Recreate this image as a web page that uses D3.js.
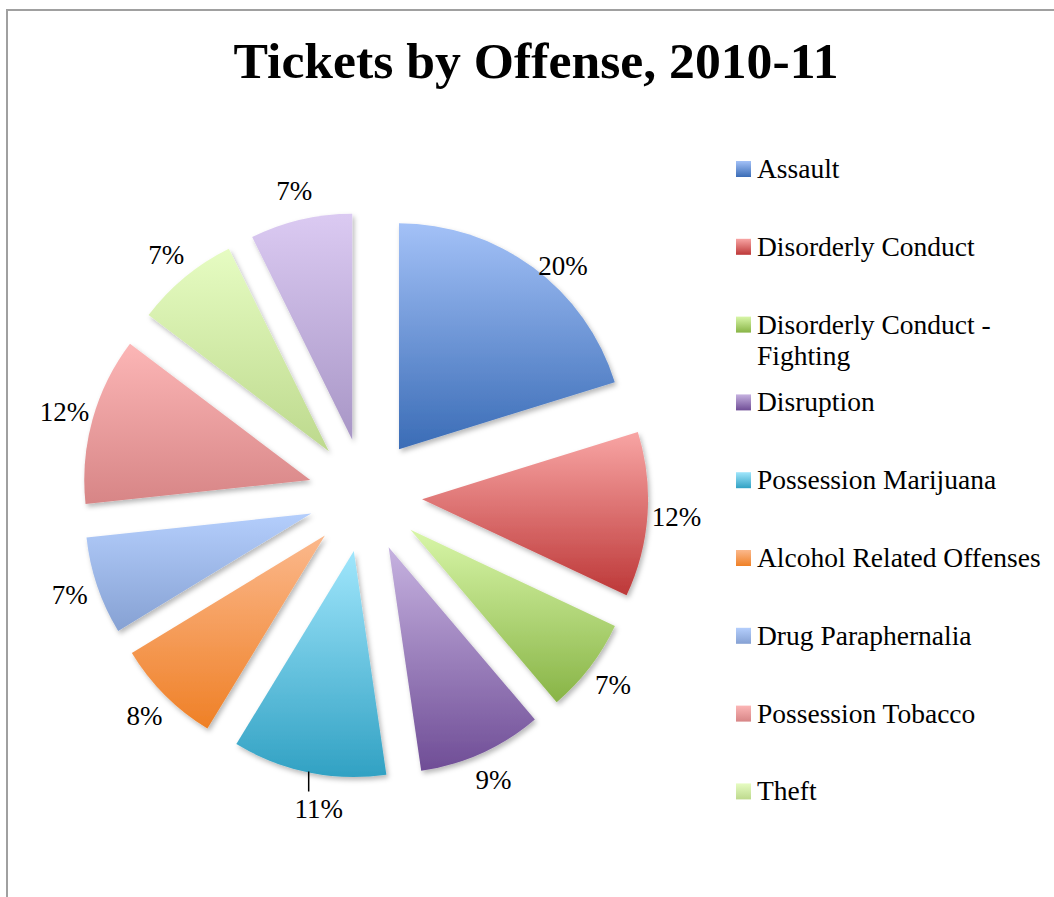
<!DOCTYPE html>
<html>
<head>
<meta charset="utf-8">
<script src="https://cdn.jsdelivr.net/npm/d3@7"></script>
<style>
  html, body { margin: 0; padding: 0; background: #fff; }
  svg { display: block; }
</style>
</head>
<body>
<svg id="chart" width="1054" height="897"></svg>
<script>
// ---- data ----
const title = "Tickets by Offense, 2010-11";
const categories = [
  "Assault", "Disorderly Conduct", "Disorderly Conduct - Fighting", "Disruption",
  "Possession Marijuana", "Alcohol Related Offenses", "Drug Paraphernalia",
  "Possession Tobacco", "Theft", "Other"
];
// estimated shares (percent)
const values = [20.2, 11.8, 6.8, 8.9, 11.0, 7.6, 7.0, 12.0, 7.4, 7.3];
const colorsTop = ["#a3c1f7", "#f8a5a4", "#d8f6a8", "#c6b2e0", "#a0e6fc", "#fbb88c", "#b4cefc", "#fcb6b6", "#e6fcc2", "#dbcaf2"];
const colorsBottom = ["#3a6cb6", "#bd3838", "#88b446", "#6f4d96", "#31a1c3", "#ef8026", "#86a1d3", "#d78586", "#bdd98d", "#a896c6"];
const leaderLabels = ["Possession Marijuana"];

// ---- layout ----
const W = 1054, H = 897;
const cx = 365.2, cy = 495.2;
const radius = 226, explode = 57, labelR = 312;
const font = "'Liberation Serif', 'Times New Roman', serif";

const svg = d3.select("#chart");
const defs = svg.append("defs");

// frame
svg.append("path")
  .attr("d", `M7,${H} L7,10 L${W},10`)
  .attr("fill", "none").attr("stroke", "#a0a0a0").attr("stroke-width", 2);

// title
svg.append("text")
  .attr("x", 536).attr("y", 78)
  .attr("text-anchor", "middle")
  .attr("font-family", font).attr("font-weight", "bold").attr("font-size", 50)
  .attr("textLength", 605).attr("lengthAdjust", "spacingAndGlyphs")
  .text(title);

// gradients
const grads = defs.selectAll("linearGradient").data(categories).join("linearGradient")
  .attr("id", (d, i) => "g" + i)
  .attr("x1", 0).attr("y1", 0).attr("x2", 0).attr("y2", 1);
grads.append("stop").attr("offset", "0%").attr("stop-color", (d, i) => colorsTop[i]);
grads.append("stop").attr("offset", "100%").attr("stop-color", (d, i) => colorsBottom[i]);

// shadow
const f = defs.append("filter").attr("id", "shadow")
  .attr("x", "-20%").attr("y", "-20%").attr("width", "140%").attr("height", "140%");
f.append("feDropShadow").attr("dx", 2).attr("dy", 3).attr("stdDeviation", 2.5)
  .attr("flood-color", "#000").attr("flood-opacity", 0.28);

const pie = d3.pie().sort(null).value(d => d);
const arcs = pie(values);
const arc = d3.arc().innerRadius(0).outerRadius(radius);
const total = d3.sum(values);
const pct = v => Math.round(v * 100) + "%";

const g = svg.append("g").attr("transform", `translate(${cx},${cy})`);

const mid = d => (d.startAngle + d.endAngle) / 2;
const polar = (a, r) => [Math.sin(a) * r, -Math.cos(a) * r];

g.selectAll("path.slice").data(arcs).join("path")
  .attr("class", "slice")
  .attr("transform", d => { const [x, y] = polar(mid(d), explode); return `translate(${x},${y})`; })
  .attr("d", arc)
  .attr("fill", (d, i) => `url(#g${i})`)
  .attr("filter", "url(#shadow)");

// labels ("best fit": the largest slice's label sits slightly in toward its arc)
const deg = Math.PI / 180;
arcs.forEach((d, i) => {
  let a = mid(d), r = labelR;
  if (d.data === d3.max(values)) { a += 4.4 * deg; r = 303; }
  const useLeader = leaderLabels.includes(categories[i]);
  let [x, y] = polar(a, r);
  if (useLeader) {
    const [ex, ey] = polar(mid(d), radius + explode);
    g.append("line")
      .attr("x1", ex).attr("y1", ey - 1).attr("x2", ex).attr("y2", ey + 19)
      .attr("stroke", "#000").attr("stroke-width", 1.5);
    x = ex + 10; y = ey + 37;
  }
  g.append("text")
    .attr("x", x).attr("y", y)
    .attr("text-anchor", "middle").attr("dominant-baseline", "central")
    .attr("font-family", font).attr("font-size", 27).attr("fill", "#000")
    .text(pct(d.data / total));
});

// legend
const legendY = d3.scaleLinear().domain([0, 1]).range([178, 255.8]);
const legend = svg.append("g");
const maxW = 295;
categories.forEach((c, i) => {
  const by = legendY(i);
  if (by > H - 40) return; // legend clipped at chart bottom
  legend.append("rect")
    .attr("x", 736).attr("y", by - 17).attr("width", 15).attr("height", 16)
    .attr("fill", `url(#g${i})`);
  const t = legend.append("text")
    .attr("x", 757).attr("y", by)
    .attr("font-family", font).attr("font-size", 27.5).attr("fill", "#000");
  const words = c.split(" ");
  let line = [], lineNo = 0;
  let ts = t.append("tspan").attr("x", 757).attr("y", by);
  words.forEach(w => {
    line.push(w);
    ts.text(line.join(" "));
    if (ts.node().getComputedTextLength() > maxW && line.length > 1) {
      line.pop();
      ts.text(line.join(" "));
      line = [w];
      lineNo++;
      ts = t.append("tspan").attr("x", 757).attr("y", by + lineNo * 31).text(w);
    }
  });
});
</script>
</body>
</html>
